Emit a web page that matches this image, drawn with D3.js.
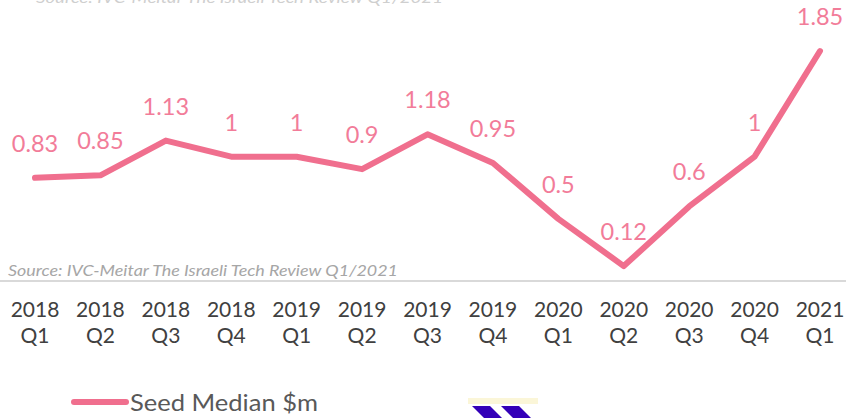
<!DOCTYPE html>
<html><head><meta charset="utf-8">
<script src="https://cdn.jsdelivr.net/npm/d3@7/dist/d3.min.js"></script>
<style>html,body{margin:0;padding:0;background:#fff;overflow:hidden}</style>
</head><body>
<svg id="chart" width="846" height="418"></svg>
<script>
const years = ["2018","2018","2018","2018","2019","2019","2019","2019","2020","2020","2020","2020","2021"];
const quarters = ["Q1","Q2","Q3","Q4","Q1","Q2","Q3","Q4","Q1","Q2","Q3","Q4","Q1"];
const categories = years.map((y,i)=>y+" "+quarters[i]);
const seedMedian = [0.83,0.85,1.13,1,1,0.9,1.18,0.95,0.5,0.12,0.6,1,1.85];
const seriesName = "Seed Median $m";
const sourceText = "Source: IVC-Meitar The Israeli Tech Review Q1/2021";

const svg = d3.select("#chart");
const font = "Lato, 'Open Sans', sans-serif";
const lineColor = "#f06f8e";
const labelColor = "#f27c99";

const x = d3.scalePoint().domain(categories).range([35, 820]);
const y = d3.scaleLinear().domain([0, 2]).range([281, 32.4]);

// top faded source text (clipped at the top edge, as in the reference)
svg.append("text").attr("x", 36).attr("y", 3)
  .attr("font-family", font).attr("font-style", "italic").attr("font-size", 16)
  .attr("fill", "#cfcfcf").attr("textLength", 407).attr("lengthAdjust", "spacingAndGlyphs")
  .text(sourceText);

// axis line
const xAxis = d3.axisBottom(x).tickSize(0).tickFormat("");
const gx = svg.append("g").attr("transform", `translate(0,${y(0)})`).call(xAxis);
gx.select(".domain").attr("d", "M0,0H846").attr("stroke", "#d9d9d9").attr("stroke-width", 2);

// tick labels (two lines)
const tl = svg.append("g").attr("font-family", font).attr("font-size", 21).attr("fill", "#404040").attr("text-anchor","middle");
tl.selectAll("text.yr").data(categories).join("text").attr("class","yr")
  .attr("x", d=>x(d)).attr("y", 317).text((d,i)=>years[i]);
tl.selectAll("text.qt").data(categories).join("text").attr("class","qt")
  .attr("x", d=>x(d)).attr("y", 343).text((d,i)=>quarters[i]);

// bottom source
svg.append("text").attr("x", 8).attr("y", 276)
  .attr("font-family", font).attr("font-style", "italic").attr("font-size", 15)
  .attr("fill", "#a6a6a6").attr("textLength", 390).attr("lengthAdjust", "spacingAndGlyphs")
  .text(sourceText);

// line
const line = d3.line().x((d,i)=>x(categories[i])).y(d=>y(d));
svg.append("path").datum(seedMedian).attr("d", line)
  .attr("fill","none").attr("stroke", lineColor).attr("stroke-width", 6)
  .attr("stroke-linejoin","round").attr("stroke-linecap","round");

// data labels
svg.append("g").selectAll("text").data(seedMedian).join("text")
  .attr("x", (d,i)=>x(categories[i])).attr("y", d=>y(d)-26)
  .attr("text-anchor","middle").attr("font-family", font).attr("font-size", 23.5)
  .attr("fill", labelColor).text(d=>String(d));

// legend
svg.append("line").attr("x1", 74).attr("x2", 126).attr("y1", 402).attr("y2", 402)
  .attr("stroke", lineColor).attr("stroke-width", 6).attr("stroke-linecap","round");
svg.append("text").attr("x", 130).attr("y", 411)
  .attr("font-family", font).attr("font-size", 24).attr("fill", "#595959")
  .attr("textLength", 188).attr("lengthAdjust", "spacingAndGlyphs")
  .text(seriesName);

// logo fragment
const logo = svg.append("g");
logo.append("rect").attr("x", 468).attr("y", 398).attr("width", 70).attr("height", 6).attr("fill", "#fbf6d8");
logo.append("path").attr("d", "M472,406 L490,406 L502,418 L484,418 Z").attr("fill", "#3300b8");
logo.append("path").attr("d", "M501,406 L519,406 L531,418 L513,418 Z").attr("fill", "#3300b8");
</script>
</body></html>
